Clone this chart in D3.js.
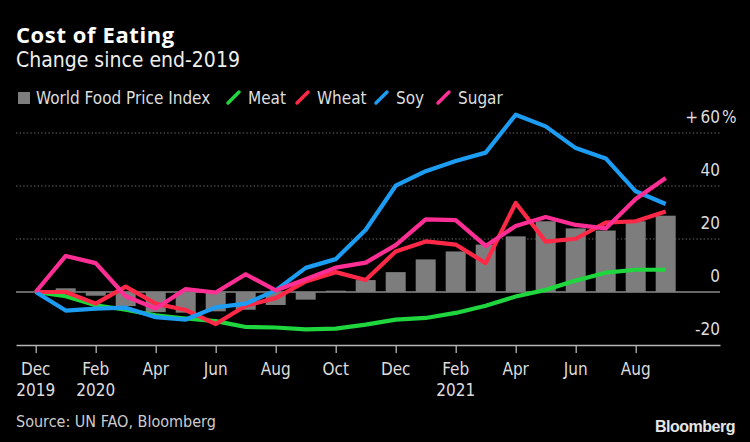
<!DOCTYPE html>
<html>
<head>
<meta charset="utf-8">
<script src="https://cdn.jsdelivr.net/npm/d3@7"></script>
<style>
  body { margin: 0; background: #000; }
  svg { display: block; }
  .cond { font-family: "Liberation Sans Narrow", "DejaVu Sans Condensed", sans-serif; }
</style>
</head>
<body>
<div id="chart"></div>
<script>
const svgWidth = 750;
const svgHeight = 442;

// Monthly data, Dec 2019 .. Sep 2021 (% change since end-2019)
const months = ["Dec 2019", "Jan 2020", "Feb 2020", "Mar 2020", "Apr 2020", "May 2020",
  "Jun 2020", "Jul 2020", "Aug 2020", "Sep 2020", "Oct 2020", "Nov 2020", "Dec 2020",
  "Jan 2021", "Feb 2021", "Mar 2021", "Apr 2021", "May 2021", "Jun 2021", "Jul 2021",
  "Aug 2021", "Sep 2021"];

const foodIndex = [0, 1.4, -1.4, -5.3, -7.6, -7.8, -7.3, -6.7, -4.9, -2.9, 0.5, 4.5,
  7.5, 12.3, 15.3, 17.9, 21, 26.7, 24, 23.2, 26.7, 28.8];
const meat = [0, -1.6, -5, -6.7, -8.8, -10, -11, -13.2, -13.4, -14.1, -13.8, -12.3,
  -10.4, -9.8, -7.9, -5.2, -1.7, 0.8, 4.3, 7.3, 8.4, 8.4];
const wheat = [0, 0, -4.4, 2, -4.4, -6.8, -12.1, -5.2, -2.3, 4, 7.5, 4.5,
  15.3, 19.1, 17.9, 10.9, 33.6, 19, 20.1, 26.2, 26.7, 30.4];
const soy = [0, -7, -6.3, -5.9, -9.5, -10.4, -5.8, -4.4, 0.6, 9.1, 12.4, 23.5,
  40.1, 45.6, 49.4, 52.6, 66.9, 62.5, 54.3, 50.4, 38, 33.2];
const sugar = [0, 13.6, 10.9, -1.6, -6.2, 1.1, -0.2, 6.7, 0.6, 4.8, 9.2, 11.1,
  17.7, 27.4, 27.1, 17.4, 24.9, 28.3, 25.3, 24, 35.1, 43];

const tickIdx = [0, 2, 4, 6, 8, 10, 12, 14, 16, 18, 20];
const tickMonth = ["Dec", "Feb", "Apr", "Jun", "Aug", "Oct", "Dec", "Feb", "Apr", "Jun", "Aug"];
const tickYear = ["2019", "2020", "", "", "", "", "", "2021", "", "", ""];
const yTicks = [-20, 0, 20, 40, 60];

const series = [
  { name: "Meat", values: meat, color: "#1fd63e" },
  { name: "Wheat", values: wheat, color: "#ff2947" },
  { name: "Soy", values: soy, color: "#1c9cf2" },
  { name: "Sugar", values: sugar, color: "#ff2e95" }
];
const barColor = "#7d7d7d";

const svg = d3.select("#chart")
  .append("svg")
  .attr("width", svgWidth)
  .attr("height", svgHeight)
  .style("background", "#000");

// scales
const x = d3.scaleLinear().domain([-0.657, 22.81]).range([16, 720]);
const y = d3.scaleLinear().domain([-20, 60]).range([345, 133]);

// titles
svg.append("text")
  .attr("x", 16).attr("y", 43)
  .attr("fill", "#fff")
  .style("font-family", "'Open Sans', sans-serif")
  .style("font-weight", 700)
  .style("font-size", "22px")
  .style("letter-spacing", "0.6px")
  .text("Cost of Eating");

svg.append("text")
  .attr("class", "cond")
  .attr("x", 16).attr("y", 67)
  .attr("fill", "#eee")
  .style("font-size", "21px")
  .text("Change since end-2019");

// legend
const legend = svg.append("g").attr("class", "cond").style("font-size", "17px");
legend.append("rect")
  .attr("x", 18).attr("y", 92).attr("width", 12).attr("height", 12)
  .attr("fill", barColor);
legend.append("text")
  .attr("x", 36).attr("y", 103.5).attr("fill", "#ddd")
  .text("World Food Price Index");

const legendX = [227, 296, 375, 437];
series.forEach((s, i) => {
  const lx = legendX[i];
  legend.append("line")
    .attr("x1", lx + 1).attr("y1", 103)
    .attr("x2", lx + 12).attr("y2", 92)
    .attr("stroke", s.color)
    .attr("stroke-width", 3.5)
    .attr("stroke-linecap", "round");
  legend.append("text")
    .attr("x", lx + 21).attr("y", 103.5).attr("fill", "#ddd")
    .text(s.name);
});

// y gridlines
const grid = svg.append("g");
grid.selectAll("line")
  .data(yTicks.filter(d => d > -20))
  .enter()
  .append("line")
  .attr("x1", 16).attr("x2", 720)
  .attr("y1", d => y(d)).attr("y2", d => y(d))
  .attr("stroke", d => d === 0 ? "#8a8a8a" : "#6a6a6a")
  .attr("stroke-width", d => d === 0 ? 1.3 : 1.2)
  .attr("stroke-dasharray", d => d === 0 ? null : "1.4,2.2");

// y labels
const yLabels = svg.append("g").attr("class", "cond")
  .style("font-size", "17px").attr("fill", "#ddd");
yLabels.selectAll("text")
  .data(yTicks)
  .enter()
  .append("text")
  .attr("x", 720)
  .attr("y", d => y(d) - 10)
  .attr("text-anchor", "end")
  .text(d => d3.format("")(d).replace("−", "-"));
yLabels.append("text")
  .attr("x", 722).attr("y", y(60) - 10)
  .text("%");
yLabels.append("text")
  .attr("x", 698).attr("y", y(60) - 10)
  .attr("text-anchor", "end")
  .text("+");

// bars
const barW = 20;
svg.append("g")
  .selectAll("rect")
  .data(foodIndex)
  .enter()
  .append("rect")
  .attr("x", (d, i) => x(i) - barW / 2)
  .attr("y", d => y(Math.max(0, d)))
  .attr("width", barW)
  .attr("height", d => Math.abs(y(d) - y(0)))
  .attr("fill", barColor);

// x axis
const xAxis = d3.axisBottom(x)
  .tickValues(tickIdx)
  .tickSizeInner(8)
  .tickSizeOuter(0)
  .tickFormat("");

const xAxisG = svg.append("g")
  .attr("transform", `translate(0, ${y(-20)})`)
  .call(xAxis);
xAxisG.select(".domain").attr("stroke", "#b5b5b5").attr("stroke-width", 1.6);
xAxisG.selectAll(".tick line").attr("stroke", "#b5b5b5").attr("stroke-width", 1.3);

const xLabels = svg.append("g").attr("class", "cond")
  .style("font-size", "17px").attr("fill", "#ddd")
  .attr("text-anchor", "middle");
tickIdx.forEach((t, i) => {
  xLabels.append("text").attr("x", x(t)).attr("y", 374.5).text(tickMonth[i]);
  if (tickYear[i]) {
    xLabels.append("text").attr("x", x(t)).attr("y", 395.5).text(tickYear[i]);
  }
});

// lines
const line = d3.line()
  .x((d, i) => x(i))
  .y(d => y(d));

svg.append("g")
  .selectAll("path")
  .data(series)
  .enter()
  .append("path")
  .attr("d", d => line(d.values))
  .attr("fill", "none")
  .attr("stroke", d => d.color)
  .attr("stroke-width", 4.2)
  .attr("stroke-linejoin", "round");

// footer
svg.append("text")
  .attr("class", "cond")
  .attr("x", 16).attr("y", 427)
  .attr("fill", "#ccc")
  .style("font-size", "16px")
  .text("Source: UN FAO, Bloomberg");

svg.append("text")
  .attr("x", 735).attr("y", 432)
  .attr("text-anchor", "end")
  .attr("fill", "#e6e6e6")
  .style("font-family", "'Liberation Sans', Arial, sans-serif")
  .style("font-weight", 700)
  .style("font-size", "16px")
  .style("letter-spacing", "-0.5px")
  .text("Bloomberg");
</script>
</body>
</html>
